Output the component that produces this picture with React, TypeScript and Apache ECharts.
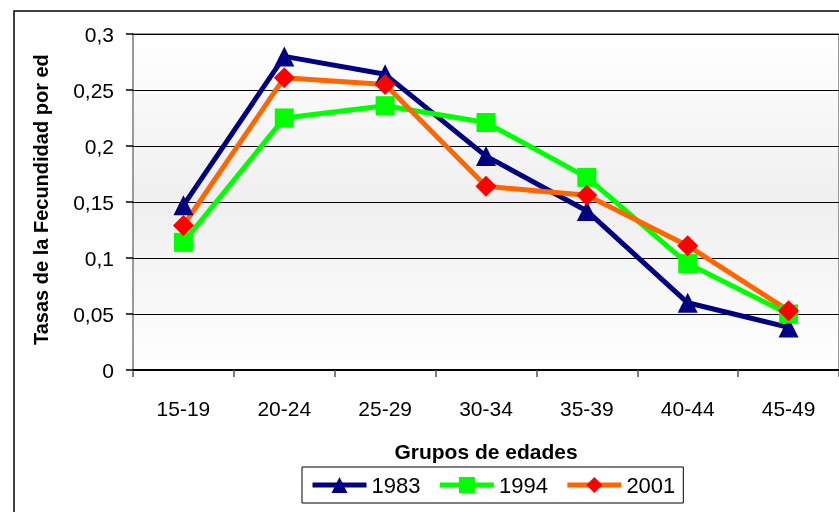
import React, { useEffect, useRef } from "react";
import * as echarts from "echarts";

const categories = ["15-19", "20-24", "25-29", "30-34", "35-39", "40-44", "45-49"];
const seriesNames = ["1983", "1994", "2001"];
const values1983 = [0.147, 0.280, 0.264, 0.191, 0.142, 0.060, 0.038];
const values1994 = [0.114, 0.225, 0.236, 0.221, 0.172, 0.095, 0.050];
const values2001 = [0.129, 0.261, 0.255, 0.164, 0.156, 0.111, 0.053];
const yTitle = "Tasas de la Fecundidad por edad";
const xTitle = "Grupos de edades";

export default function App() {
  const ref = useRef<HTMLDivElement>(null);
  useEffect(() => {
    if (!ref.current) return;
    const chart = echarts.init(ref.current, null, { renderer: "svg" });
    const font = "Arial, 'Liberation Sans', sans-serif";
    const mk = (name: string, data: number[], color: string, symbol: string, symbolColor: string, size: number) => ({
      name,
      type: "line",
      data,
      symbol,
      symbolSize: size,
      lineStyle: { color, width: 5 },
      itemStyle: { color: symbolColor, borderWidth: 0 },
      emphasis: { disabled: true },
    });
    chart.setOption({
      animation: false,
      textStyle: { fontFamily: font },
      grid: {
        left: 133,
        top: 34,
        width: 714,
        height: 336,
        show: true,
        borderColor: "#9a9a9a",
        borderWidth: 2,
        backgroundColor: new echarts.graphic.LinearGradient(0, 0, 0, 1, [
          { offset: 0, color: "#ffffff" },
          { offset: 0.5, color: "#efefef" },
          { offset: 1, color: "#ffffff" },
        ]),
      },
      graphic: [
        {
          type: "rect",
          shape: { x: 14, y: 11, width: 900, height: 600 },
          style: { fill: "none", stroke: "#000", lineWidth: 1.5 },
          z: 0,
        },
        {
          type: "text",
          x: 41,
          y: 345,
          rotation: Math.PI / 2,
          style: {
            text: yTitle,
            font: `bold 20px ${font}`,
            fill: "#000",
            align: "left",
            verticalAlign: "middle",
            width: 300,
            overflow: "truncate",
            ellipsis: "",
          },
        },
      ],
      legend: {
        data: seriesNames,
        left: 302,
        top: 467,
        padding: [7, 8, 7, 8],
        itemWidth: 54,
        itemHeight: 20,
        itemGap: 17,
        borderColor: "#000",
        borderWidth: 1,
        lineStyle: { width: 5 },
        textStyle: { fontSize: 22, color: "#000", fontFamily: font },
      },
      xAxis: {
        type: "category",
        data: categories,
        boundaryGap: true,
        name: xTitle,
        nameLocation: "middle",
        nameGap: 71,
        nameTextStyle: { fontSize: 21, fontWeight: "bold", color: "#000", fontFamily: font },
        axisLine: { show: true, lineStyle: { color: "#000", width: 2 } },
        axisTick: { show: true, length: 7, lineStyle: { color: "#555", width: 1.5 } },
        axisLabel: { fontSize: 21, color: "#000", margin: 28, fontFamily: font },
        splitLine: { show: false },
      },
      yAxis: {
        type: "value",
        min: 0,
        max: 0.3,
        interval: 0.05,
        axisLine: { show: false },
        axisTick: { show: true, length: 7, lineStyle: { color: "#000", width: 1.5 } },
        axisLabel: {
          fontSize: 21,
          color: "#000",
          margin: 19,
          fontFamily: font,
          formatter: (v: number) => String(+v.toFixed(2)).replace(".", ","),
        },
        splitLine: { show: true, lineStyle: { color: "#000", width: 1 } },
      },
      series: [
        mk("1983", values1983, "#000080", "triangle", "#000080", 20),
        mk("1994", values1994, "#00ff00", "rect", "#00ff00", 19),
        mk("2001", values2001, "#ff6600", "diamond", "#ff0000", 21),
      ],
    });
    return () => chart.dispose();
  }, []);
  return <div ref={ref} style={{ position: "fixed", left: 0, top: 0, width: 839, height: 512 }} />;
}
